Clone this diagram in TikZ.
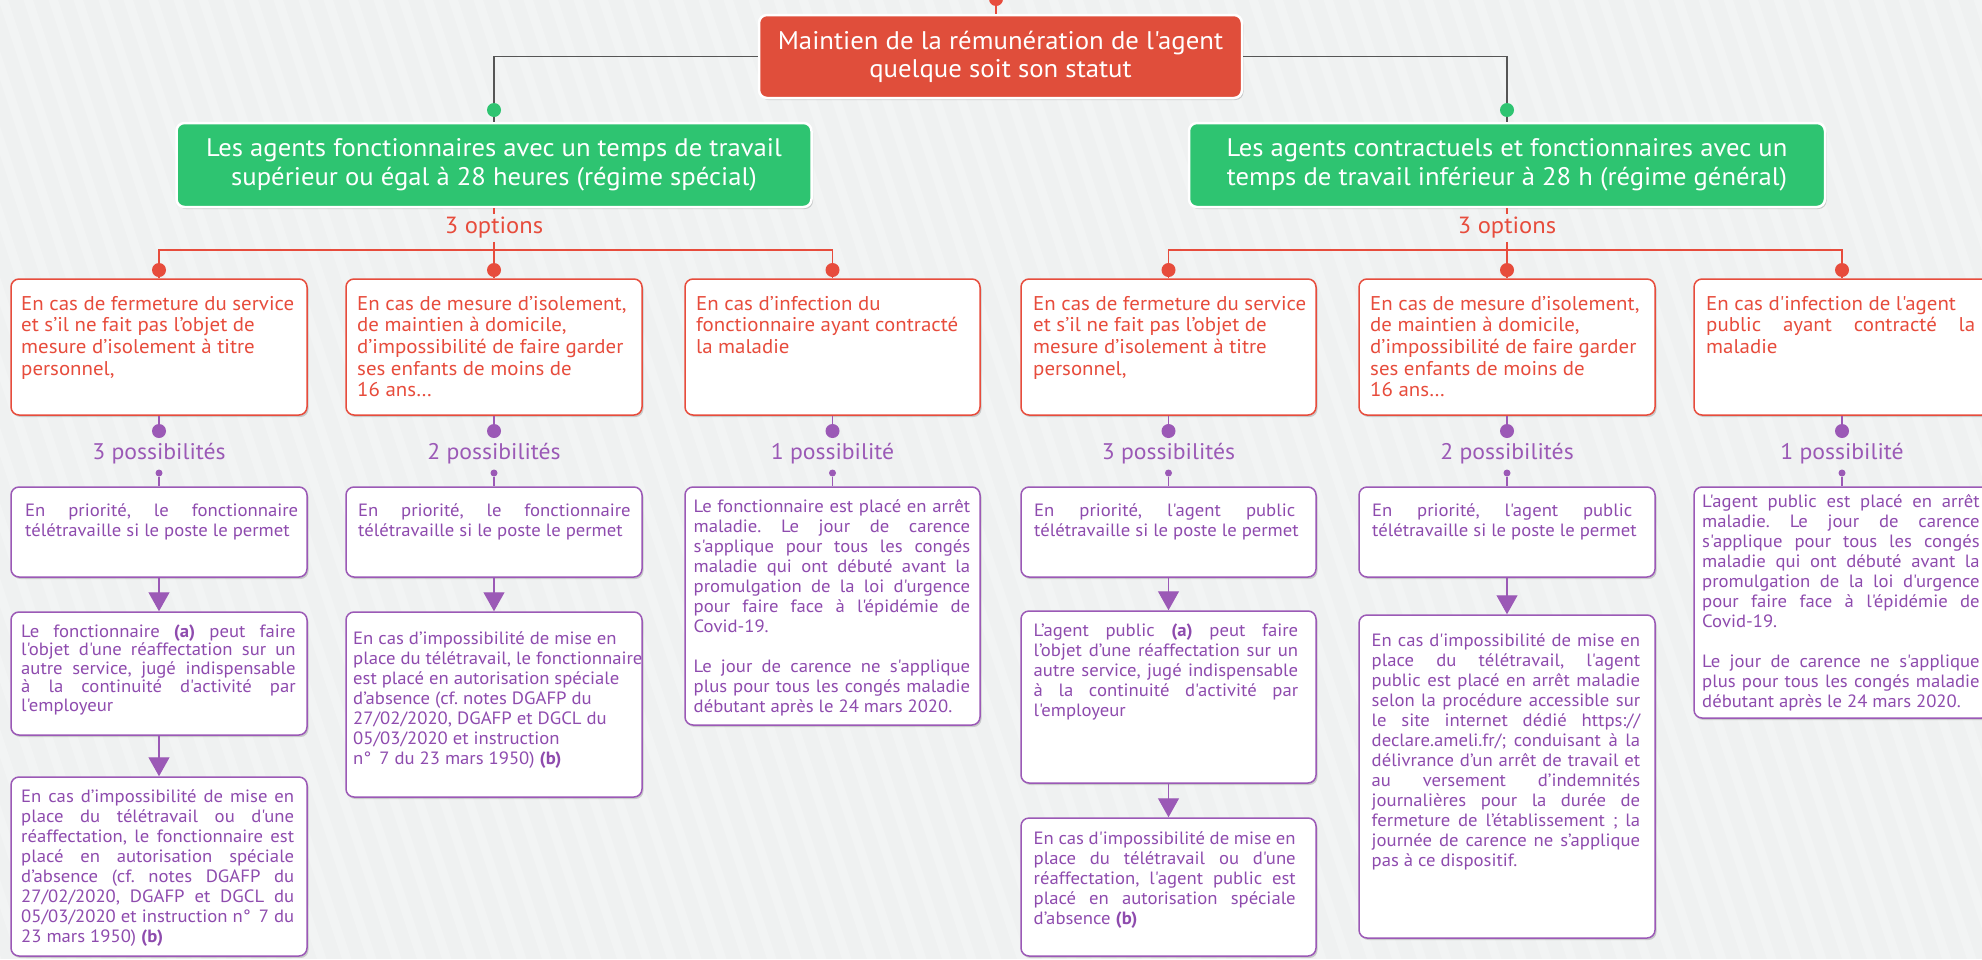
\documentclass[tikz,border=0pt]{standalone}
\usepackage{fontspec}
\newfontfamily\pts{PT Sans}[FakeStretch=1.05]
\usetikzlibrary{arrows.meta,shadows}
\definecolor{bgc}{HTML}{EFF1F1}
\definecolor{myred}{HTML}{E74C3C}
\definecolor{rootred}{HTML}{E04E3B}
\definecolor{mygreen}{HTML}{2EC471}
\definecolor{mypurple}{HTML}{9B59B6}
\definecolor{ptxt}{HTML}{8E4BAE}
\definecolor{conn}{HTML}{555555}
\newcommand\jline[1]{\hbox to \hsize{#1}}
\newcommand\rline[1]{\hbox{#1}}
\newcommand\bx[6]{\node[#1, minimum width={(#4)-(#2)}, minimum height={(#5)-(#3)}] (#6) at ({((#2)+(#4))/2},{((#3)+(#5))/2}) {};}
\tikzset{
  shad/.style={drop shadow={shadow xshift=1.5pt, shadow yshift=-2pt, opacity=0.16, fill=black}},
  bigbox/.style={rounded corners=8pt, draw=white, line width=2.5pt, shad, inner sep=0pt},
  rootbox/.style={bigbox, fill=rootred},
  greenbox/.style={bigbox, fill=mygreen},
  redbox/.style={rounded corners=8pt, draw=myred, line width=1.5pt, fill=white, shad, inner sep=0pt},
  purbox/.style={rounded corners=8pt, draw=mypurple, line width=1.5pt, fill=white, shad, inner sep=0pt},
  wtext/.style={text=white, align=center},
  rtext/.style={text=myred, font=\pts\frenchspacing\fontsize{19.9}{21.7}\selectfont, inner sep=0pt, anchor=base west},
  ptext/.style={text=ptxt, font=\pts\frenchspacing\fontsize{17.8}{20}\selectfont, inner sep=0pt, anchor=base west},
  olab/.style={text=myred, font=\pts\fontsize{23.4}{27}\selectfont, inner sep=3pt},
  plab/.style={text=mypurple, font=\pts\fontsize{22.6}{26}\selectfont, inner sep=3pt},
  rdot/.style={circle, fill=myred, inner sep=0pt, minimum size=14pt},
  gdot/.style={circle, fill=mygreen, inner sep=0pt, minimum size=14pt},
  pdot/.style={circle, fill=mypurple, inner sep=0pt, minimum size=14pt},
  sdot/.style={circle, fill=mypurple, inner sep=0pt, minimum size=7pt},
  cl/.style={draw=conn, line width=1.3pt},
  rl/.style={draw=myred, line width=1.3pt},
  pl/.style={draw=mypurple, line width=1.3pt},
  parr/.style={pl, -{Triangle[width=21pt,length=19pt]}}
}
\begin{document}
\begin{tikzpicture}[x=1pt,y=-1pt]
\useasboundingbox (0,0) rectangle (1982,959);
\begin{scope}
\clip (0,0) rectangle (1982,959);
\fill[bgc] (0,0) rectangle (1982,959);
\foreach \i in {-14,...,80} \draw[white, opacity=0.22, line width=9pt] ({\i*25},-10) -- ({\i*25+325},969);
\end{scope}

% root and level 1
\node[rootbox, minimum width=483pt, minimum height=83pt, wtext, font=\pts\fontsize{25.5}{28}\selectfont] (root) at (1000.5,56.5) {Maintien de la rémunération de l'agent\\quelque soit son statut};
\node[rdot] (top) at (996,-1) {};
\draw[rl] (top.south) -- (top.south |- root.north);
\node[greenbox, minimum width=635pt, minimum height=84pt, wtext, font=\pts\fontsize{25.4}{28.5}\selectfont] (g1) at (494,165) {Les agents fonctionnaires avec un temps de travail\\supérieur ou égal à 28 heures (régime spécial)};
\node[greenbox, minimum width=636pt, minimum height=84pt, wtext, font=\pts\fontsize{25.4}{28.5}\selectfont] (g2) at (1507,165) {Les agents contractuels et fonctionnaires avec un\\temps de travail inférieur à 28 h (régime général)};
\node[gdot] (gd1) at (494,110) {};
\node[gdot] (gd2) at (1507,110) {};
\draw[cl] (root.west) -| (gd1.north);
\draw[cl] (root.east) -| (gd2.north);
\draw[cl] (gd1.south) -- (g1.north);
\draw[cl] (gd2.south) -- (g2.north);

\node[olab] (o1) at (494,228) {3 options};
\node[olab] (o2) at (1507,228) {3 options};
\draw[rl] (g1.south) -- (o1.north);
\draw[rl] (g2.south) -- (o2.north);

% red dots
\node[rdot] (rd1) at (159,270) {};
\node[rdot] (rd2) at (494,270) {};
\node[rdot] (rd3) at (832.5,270) {};
\node[rdot] (rd4) at (1168.5,270) {};
\node[rdot] (rd5) at (1507,270) {};
\node[rdot] (rd6) at (1842,270) {};
\coordinate (j1) at (494,250);
\coordinate (j2) at (1507,250);
\draw[rl] (rd1.north) -- (rd1 |- j1) -- (rd3 |- j1) -- (rd3.north);
\draw[rl] (o1.south) -- (rd2.north);
\draw[rl] (rd4.north) -- (rd4 |- j2) -- (rd6 |- j2) -- (rd6.north);
\draw[rl] (o2.south) -- (rd5.north);

% red boxes
\bx{redbox}{11}{279}{307}{415}{c1}
\bx{redbox}{346}{279}{642}{415}{c2}
\bx{redbox}{685}{279}{980}{415}{c3}
\bx{redbox}{1021}{279}{1316}{415}{c4}
\bx{redbox}{1359}{279}{1655}{415}{c5}
\bx{redbox}{1694}{279}{1990}{415}{c6}
\foreach \k in {1,...,6} \draw[rl] (rd\k.south) -- (c\k.north);

\node[rtext] (tc1) at (21,310) {\vtop{\rline{En cas de fermeture du service}\rline{et s’il ne fait pas l’objet de}\rline{mesure d’isolement à titre}\rline{personnel,}}};
\node[rtext] (tc2) at (357,310) {\vtop{\rline{En cas de mesure d’isolement,}\rline{de maintien à domicile,}\rline{d’impossibilité de faire garder}\rline{ses enfants de moins de}\rline{16 ans…}}};
\node[rtext] (tc3) at (696,310) {\vtop{\rline{En cas d’infection du}\rline{fonctionnaire ayant contracté}\rline{la maladie}}};
\node[rtext] (tc4) at (1033,310) {\vtop{\rline{En cas de fermeture du service}\rline{et s’il ne fait pas l’objet de}\rline{mesure d’isolement à titre}\rline{personnel,}}};
\node[rtext] (tc5) at (1370,310) {\vtop{\rline{En cas de mesure d’isolement,}\rline{de maintien à domicile,}\rline{d’impossibilité de faire garder}\rline{ses enfants de moins de}\rline{16 ans…}}};
\node[rtext] (tc6) at (1706,310) {\vtop{\hsize=269pt\rline{En cas d'infection de l'agent}\jline{public ayant contracté la}\rline{maladie}}};

% purple dots and labels
\node[pdot] (pd1) at (159,431) {};
\node[pdot] (pd2) at (494,431) {};
\node[pdot] (pd3) at (832.5,431) {};
\node[pdot] (pd4) at (1168.5,431) {};
\node[pdot] (pd5) at (1507,431) {};
\node[pdot] (pd6) at (1842,431) {};
\node[plab] (l1) at (159,454) {3 possibilités};
\node[plab] (l2) at (494,454) {2 possibilités};
\node[plab] (l3) at (832.5,454) {1 possibilité};
\node[plab] (l4) at (1168.5,454) {3 possibilités};
\node[plab] (l5) at (1507,454) {2 possibilités};
\node[plab] (l6) at (1842,454) {1 possibilité};
\node[sdot] (sd1) at (159,473) {};
\node[sdot] (sd2) at (494,473) {};
\node[sdot] (sd3) at (832.5,473) {};
\node[sdot] (sd4) at (1168.5,473) {};
\node[sdot] (sd5) at (1507,473) {};
\node[sdot] (sd6) at (1842,473) {};
\foreach \k in {1,...,6} \draw[pl] (c\k.south) -- (pd\k.north);

% purple boxes
\bx{purbox}{11}{487}{307}{577}{p1a}
\bx{purbox}{11}{612}{307}{735}{p1b}
\bx{purbox}{11}{777}{307}{956}{p1c}
\bx{purbox}{346}{487}{642}{577}{p2a}
\bx{purbox}{346}{612}{642}{797}{p2b}
\bx{purbox}{685}{487}{980}{725}{p3}
\bx{purbox}{1021}{487}{1316}{577}{p4a}
\bx{purbox}{1021}{611}{1316}{783}{p4b}
\bx{purbox}{1021}{818}{1316}{956}{p4c}
\bx{purbox}{1359}{487}{1655}{577}{p5a}
\bx{purbox}{1359}{615}{1655}{938}{p5b}
\bx{purbox}{1694}{487}{1990}{718}{p6}

\draw[pl] (sd1.south) -- (p1a.north);
\draw[pl] (sd2.south) -- (p2a.north);
\draw[pl] (sd3.south) -- (p3.north);
\draw[pl] (sd4.south) -- (p4a.north);
\draw[pl] (sd5.south) -- (p5a.north);
\draw[pl] (sd6.south) -- (p6.north);
\draw[parr] (p1a.south) -- (p1b.north);
\draw[parr] (p1b.south) -- (p1c.north);
\draw[parr] (p2a.south) -- (p2b.north);
\draw[parr] (p4a.south) -- (p4b.north);
\draw[parr] (p4b.south) -- (p4c.north);
\draw[parr] (p5a.south) -- (p5b.north);

% purple texts
\node[ptext] (tp1a) at (25,516) {\vtop{\hsize=273pt\jline{En priorité, le fonctionnaire}\rline{télétravaille si le poste le permet}}};
\node[ptext] (tp1b) at (21,637) {\vtop{\hsize=274.5pt\baselineskip=18.5pt\jline{Le fonctionnaire \textbf{(a)} peut faire}\jline{l'objet d'une réaffectation sur un}\jline{autre service, jugé indispensable}\jline{à la continuité d'activité par}\rline{l'employeur}}};
\node[ptext] (tp1c) at (21,802) {\vtop{\hsize=273pt\jline{En cas d’impossibilité de mise en}\jline{place du télétravail ou d'une}\jline{réaffectation, le fonctionnaire est}\jline{placé en autorisation spéciale}\jline{d’absence (cf. notes DGAFP du}\jline{27/02/2020, DGAFP et DGCL du}\jline{05/03/2020 et instruction n°\kern3pt{} 7 du}\rline{23 mars 1950) \textbf{(b)}}}};
\node[ptext] (tp2a) at (358,516) {\vtop{\hsize=272.5pt\jline{En priorité, le fonctionnaire}\rline{télétravaille si le poste le permet}}};
\node[ptext] (tp2b) at (353,644) {\vtop{\rline{En cas d’impossibilité de mise en}\rline{place du télétravail, le fonctionnaire}\rline{est placé en autorisation spéciale}\rline{d’absence (cf. notes DGAFP du}\rline{27/02/2020, DGAFP et DGCL du}\rline{05/03/2020 et instruction}\rline{n°\kern3pt{} 7 du 23 mars 1950) \textbf{(b)}}}};
\node[ptext] (tp3) at (693.5,512) {\vtop{\hsize=276.5pt\jline{Le fonctionnaire est placé en arrêt}\jline{maladie. Le jour de carence}\jline{s'applique pour tous les congés}\jline{maladie qui ont débuté avant la}\jline{promulgation de la loi d'urgence}\jline{pour faire face à l'épidémie de}\rline{Covid-19.}\rline{}\jline{Le jour de carence ne s'applique}\jline{plus pour tous les congés maladie}\rline{débutant après le 24 mars 2020.}}};
\node[ptext] (tp4a) at (1034,516) {\vtop{\hsize=261pt\jline{En priorité, l'agent public}\rline{télétravaille si le poste le permet}}};
\node[ptext] (tp4b) at (1033.5,636) {\vtop{\hsize=264.5pt\jline{L’agent public \textbf{(a)} peut faire}\jline{l’objet d’une réaffectation sur un}\jline{autre service, jugé indispensable}\jline{à la continuité d'activité par}\rline{l'employeur}}};
\node[ptext] (tp4c) at (1033.5,844) {\vtop{\hsize=262pt\jline{En cas d'impossibilité de mise en}\jline{place du télétravail ou d'une}\jline{réaffectation, l'agent public est}\jline{placé en autorisation spéciale}\rline{d’absence \textbf{(b)}}}};
\node[ptext] (tp5a) at (1372,516) {\vtop{\hsize=260pt\jline{En priorité, l'agent public}\rline{télétravaille si le poste le permet}}};
\node[ptext] (tp5b) at (1371.5,646) {\vtop{\hsize=268.5pt\jline{En cas d'impossibilité de mise en}\jline{place du télétravail, l'agent}\jline{public est placé en arrêt maladie}\jline{selon la procédure accessible sur}\jline{le site internet dédié https://}\jline{declare.ameli.fr/; conduisant à la}\jline{délivrance d’un arrêt de travail et}\jline{au versement d’indemnités}\jline{journalières pour la durée de}\jline{fermeture de l’établissement ; la}\jline{journée de carence ne s’applique}\rline{pas à ce dispositif.}}};
\node[ptext] (tp6) at (1702,507) {\vtop{\hsize=277.5pt\jline{L'agent public est placé en arrêt}\jline{maladie. Le jour de carence}\jline{s'applique pour tous les congés}\jline{maladie qui ont débuté avant la}\jline{promulgation de la loi d'urgence}\jline{pour faire face à l'épidémie de}\rline{Covid-19.}\rline{}\jline{Le jour de carence ne s'applique}\jline{plus pour tous les congés maladie}\rline{débutant après le 24 mars 2020.}}};
\end{tikzpicture}
\end{document}
